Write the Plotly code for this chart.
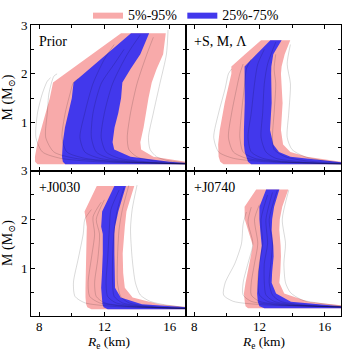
import plotly.graph_objects as go
from plotly.subplots import make_subplots

# ---- band edges (R in km at each mass M in Msun) ----
prior_m = [0.15, 0.2, 0.3, 0.45, 0.6, 0.9, 1.2, 1.5, 1.82, 2.1, 2.4, 2.83]
prior_pink_lo = [7.9, 7.75, 7.74, 7.8, 7.9, 8.15, 8.4, 8.65, 8.85, 10.0, 11.24, 13.02]
prior_pink_hi = [18.0, 16.8, 15.0, 14.25, 14.2, 14.4, 14.55, 14.7, 14.9, 15.2, 15.6, 15.76]
prior_blue_lo = [9.6, 9.45, 9.4, 9.42, 9.45, 9.58, 9.8, 10.0, 10.11, 11.09, 12.13, 13.63]
prior_blue_hi = [18.0, 16.0, 13.6, 12.6, 12.5, 12.62, 12.85, 13.02, 13.1, 13.6, 14.2, 14.74]

sml_m = [0.15, 0.2, 0.3, 0.4, 0.55, 0.85, 1.4, 2.0, 2.15, 2.4, 2.69]
sml_pink_lo = [9.8, 9.6, 9.5, 9.47, 9.47, 9.57, 9.87, 10.28, 10.28, 11.12, 12.1]
sml_pink_hi = [18.0, 17.0, 14.9, 13.9, 13.45, 13.32, 13.42, 13.32, 13.36, 13.55, 13.89]
sml_blue_lo = [11.5, 11.3, 11.2, 11.1, 11.05, 11.05, 11.1, 11.1, 11.09, 11.82, 12.67]
sml_blue_hi = [18.0, 16.3, 13.9, 13.2, 12.85, 12.65, 12.75, 12.72, 12.73, 12.85, 13.36]

j0030_m = [0.16, 0.2, 0.26, 0.4, 0.6, 0.9, 1.3, 1.7, 1.85, 2.16, 2.4, 2.68]
j0030_pink_lo = [11.2, 10.95, 10.88, 10.84, 10.84, 10.86, 10.92, 10.92, 10.92, 10.78, 11.13, 11.53]
j0030_pink_hi = [18.0, 17.2, 15.35, 13.73, 13.25, 13.15, 13.12, 13.22, 13.25, 13.35, 13.55, 13.83]
j0030_blue_lo = [12.2, 11.95, 11.88, 11.86, 11.8, 11.85, 11.9, 11.9, 11.8, 11.86, 12.2, 12.61]
j0030_blue_hi = [18.0, 17.0, 14.3, 13.0, 12.65, 12.61, 12.61, 12.61, 12.65, 12.85, 13.05, 13.32]

j0740_m = [0.18, 0.22, 0.31, 0.48, 0.7, 0.92, 1.24, 1.46, 1.78, 2.0, 2.26, 2.61]
j0740_pink_lo = [11.3, 11.15, 11.1, 11.05, 11.15, 11.29, 11.5, 11.6, 11.3, 11.1, 11.09, 11.8]
j0740_pink_hi = [18.0, 17.5, 15.0, 13.52, 13.22, 13.28, 13.32, 13.3, 13.22, 13.25, 13.4, 13.77]
j0740_blue_lo = [12.3, 12.0, 11.9, 11.86, 11.9, 11.94, 12.05, 12.14, 12.05, 12.0, 12.0, 12.41]
j0740_blue_hi = [18.0, 17.0, 13.93, 13.02, 12.75, 12.78, 12.87, 12.85, 12.75, 12.78, 12.9, 13.22]

# ---- a few individual M-R curves per panel (faint grey lines): (M list, R list) ----
prior_curves = [
    ([0.15, 0.17, 0.2, 0.27, 0.4, 0.7, 1.2, 1.6, 1.85, 1.92], [17.5, 14.5, 11.5, 9.3, 8.2, 7.8, 7.9, 8.2, 8.5, 8.7]),
    ([0.15, 0.17, 0.2, 0.27, 0.4, 0.7, 1.2, 1.6, 1.95, 2.0], [17.5, 15.0, 12.5, 10.2, 8.9, 8.4, 8.5, 8.6, 8.9, 9.1]),
    ([0.15, 0.17, 0.2, 0.27, 0.4, 0.7, 1.2, 1.8, 2.3, 2.6], [17.5, 15.5, 13.5, 11.7, 10.8, 10.5, 10.8, 11.3, 12.0, 12.6]),
    ([0.15, 0.17, 0.2, 0.27, 0.4, 0.7, 1.2, 1.8, 2.4, 2.8], [17.5, 16.0, 14.5, 12.9, 12.1, 11.8, 12.0, 12.5, 13.4, 14.2]),
    ([0.16, 0.19, 0.23, 0.3, 0.45, 0.7, 1.2, 1.8, 2.4, 2.9], [17.5, 16.6, 15.8, 15.2, 14.8, 14.7, 15.0, 15.4, 15.8, 15.9]),
    ([0.15, 0.18, 0.22, 0.3, 0.45, 0.7, 1.2, 1.8, 2.4, 2.75], [17.5, 16.2, 15.0, 14.0, 13.5, 13.4, 13.6, 14.0, 14.6, 15.0]),
    ([0.15, 0.17, 0.2, 0.27, 0.4, 0.7, 1.2, 1.6, 1.82, 1.9], [17.5, 15.2, 13.0, 10.8, 9.7, 9.4, 9.6, 9.9, 10.1, 10.4]),
    ([0.15, 0.17, 0.2, 0.27, 0.4, 0.7, 1.2, 1.8, 2.2, 2.5], [17.5, 15.8, 14.0, 12.3, 11.5, 11.2, 11.3, 11.8, 12.6, 13.2]),
]
sml_curves = [
    ([0.15, 0.17, 0.2, 0.27, 0.4, 0.7, 1.2, 1.7, 2.0, 2.1], [17.5, 14.8, 12.3, 10.4, 9.5, 9.2, 9.5, 9.9, 10.1, 10.3]),
    ([0.15, 0.17, 0.2, 0.27, 0.4, 0.7, 1.2, 1.7, 2.0, 2.2], [17.5, 15.2, 13.0, 11.2, 10.4, 10.1, 10.3, 10.6, 10.8, 11.0]),
    ([0.15, 0.17, 0.2, 0.27, 0.4, 0.7, 1.2, 1.8, 2.2, 2.5], [17.5, 15.6, 13.8, 12.2, 11.5, 11.3, 11.5, 11.7, 11.9, 12.3]),
    ([0.15, 0.17, 0.2, 0.27, 0.4, 0.7, 1.2, 1.8, 2.2, 2.65], [17.5, 16.0, 14.5, 13.0, 12.4, 12.1, 12.2, 12.3, 12.5, 13.0]),
    ([0.16, 0.19, 0.23, 0.3, 0.45, 0.7, 1.2, 1.8, 2.2, 2.6], [17.5, 16.6, 15.8, 14.8, 14.0, 13.7, 13.8, 13.9, 13.7, 13.9]),
    ([0.15, 0.18, 0.22, 0.3, 0.45, 0.7, 1.2, 1.8, 2.1, 2.4], [17.5, 16.2, 14.8, 13.6, 12.9, 12.8, 12.9, 13.0, 12.9, 13.0]),
    ([0.15, 0.17, 0.2, 0.27, 0.4, 0.7, 1.2, 1.8, 2.1, 2.3], [17.5, 15.4, 13.4, 11.7, 11.0, 10.8, 10.9, 11.1, 11.2, 11.5]),
]
j0030_curves = [
    ([0.17, 0.19, 0.22, 0.29, 0.42, 0.7, 1.2, 1.7, 2.0, 2.2], [17.5, 14.8, 12.4, 10.8, 10.2, 10.1, 10.4, 10.7, 10.8, 11.2]),
    ([0.17, 0.19, 0.22, 0.29, 0.42, 0.7, 1.2, 1.7, 2.05, 2.35], [17.5, 15.2, 13.2, 11.7, 11.1, 11.0, 11.2, 11.4, 11.3, 11.8]),
    ([0.17, 0.19, 0.22, 0.29, 0.42, 0.7, 1.2, 1.8, 2.2, 2.6], [17.5, 15.6, 14.0, 12.7, 12.2, 12.1, 12.2, 12.3, 12.4, 12.9]),
    ([0.17, 0.19, 0.22, 0.29, 0.42, 0.7, 1.2, 1.8, 2.2, 2.7], [17.5, 16.0, 14.7, 13.5, 13.0, 12.8, 12.8, 12.9, 13.1, 13.5]),
    ([0.18, 0.21, 0.25, 0.32, 0.45, 0.7, 1.2, 1.8, 2.2, 2.7], [17.5, 16.6, 15.7, 14.8, 14.2, 13.9, 13.7, 13.6, 13.7, 14.0]),
    ([0.17, 0.19, 0.22, 0.29, 0.42, 0.7, 1.2, 1.7, 2.0, 2.4], [17.5, 15.3, 13.5, 12.0, 11.5, 11.4, 11.6, 11.7, 11.5, 12.0]),
    ([0.17, 0.19, 0.22, 0.29, 0.42, 0.7, 1.2, 1.8, 2.2, 2.65], [17.5, 15.8, 14.3, 13.1, 12.6, 12.5, 12.5, 12.6, 12.8, 13.2]),
]
j0740_curves = [
    ([0.2, 0.22, 0.25, 0.32, 0.45, 0.7, 1.1, 1.5, 1.9, 2.15], [17.5, 14.8, 12.2, 10.4, 9.8, 9.9, 10.5, 10.9, 11.0, 11.2]),
    ([0.2, 0.22, 0.25, 0.32, 0.45, 0.7, 1.1, 1.5, 1.95, 2.25], [17.5, 15.2, 13.0, 11.5, 11.0, 11.0, 11.3, 11.6, 11.3, 11.5]),
    ([0.2, 0.22, 0.25, 0.32, 0.45, 0.7, 1.1, 1.5, 2.0, 2.5], [17.5, 15.6, 13.8, 12.5, 12.0, 11.9, 12.0, 12.2, 12.1, 12.5]),
    ([0.2, 0.22, 0.25, 0.32, 0.45, 0.7, 1.1, 1.5, 2.0, 2.6], [17.5, 16.0, 14.6, 13.3, 12.8, 12.6, 12.7, 12.8, 12.6, 13.1]),
    ([0.21, 0.24, 0.28, 0.35, 0.5, 0.7, 1.1, 1.5, 2.0, 2.6], [17.5, 16.6, 15.7, 14.6, 13.9, 13.6, 13.5, 13.6, 13.4, 13.8]),
    ([0.2, 0.22, 0.25, 0.32, 0.45, 0.7, 1.1, 1.5, 2.0, 2.3], [17.5, 15.3, 13.4, 12.0, 11.5, 11.5, 11.7, 11.9, 11.7, 12.0]),
    ([0.2, 0.22, 0.25, 0.32, 0.45, 0.7, 1.1, 1.5, 2.0, 2.55], [17.5, 15.8, 14.2, 12.9, 12.4, 12.3, 12.3, 12.5, 12.4, 12.8]),
]

panel_labels = ["Prior", "+S, M, Λ", "+J0030", "+J0740"]

PINK = "rgb(248,170,170)"
BLUE = "rgb(66,56,236)"
FONT = "Liberation Serif, DejaVu Serif, serif"

panels = [
    (1, 1, prior_m, prior_pink_lo, prior_pink_hi, prior_blue_lo, prior_blue_hi, prior_curves),
    (1, 2, sml_m, sml_pink_lo, sml_pink_hi, sml_blue_lo, sml_blue_hi, sml_curves),
    (2, 1, j0030_m, j0030_pink_lo, j0030_pink_hi, j0030_blue_lo, j0030_blue_hi, j0030_curves),
    (2, 2, j0740_m, j0740_pink_lo, j0740_pink_hi, j0740_blue_lo, j0740_blue_hi, j0740_curves),
]

fig = make_subplots(rows=2, cols=2, shared_xaxes=True, shared_yaxes=True,
                    horizontal_spacing=0, vertical_spacing=0)

for i, (r, c, m, plo, phi, blo, bhi, curves) in enumerate(panels):
    # 5%-95% band
    fig.add_trace(go.Scatter(x=plo + phi[::-1], y=m + m[::-1], fill="toself",
                             fillcolor=PINK, line=dict(width=0), mode="lines",
                             name="5%-95%", legendgroup="p", showlegend=(i == 0),
                             hoverinfo="skip"), row=r, col=c)
    # 25%-75% band
    fig.add_trace(go.Scatter(x=blo + bhi[::-1], y=m + m[::-1], fill="toself",
                             fillcolor=BLUE, line=dict(width=0), mode="lines",
                             name="25%-75%", legendgroup="b", showlegend=(i == 0),
                             hoverinfo="skip"), row=r, col=c)
    for cm, cr in curves:
        fig.add_trace(go.Scatter(x=cr, y=cm, mode="lines",
                                 line=dict(color="rgba(0,0,0,0.25)", width=0.6,
                                           shape="spline", smoothing=0.7),
                                 showlegend=False, hoverinfo="skip"), row=r, col=c)

    sfx = "" if i == 0 else str(i + 1)
    fig.add_annotation(text=panel_labels[i], xref=f"x{sfx} domain", yref=f"y{sfx} domain",
                       x=0.04, y=0.95, xanchor="left", yanchor="top", showarrow=False,
                       font=dict(family=FONT, size=14, color="black"))

fig.update_xaxes(range=[7.5, 17], tickvals=[8, 12, 16], ticks="inside", ticklen=4,
                 showline=True, linecolor="black", linewidth=1, mirror="allticks",
                 showgrid=False, zeroline=False, ticklabelstandoff=-2,
                 minor=dict(tickvals=[10, 14], ticks="inside", ticklen=3, tickcolor="black"),
                 tickcolor="black", tickfont=dict(family=FONT, size=13, color="black"))
fig.update_yaxes(range=[0.02, 3], tickvals=[1, 2, 3], ticks="inside", ticklen=4,
                 showline=True, linecolor="black", linewidth=1, mirror="allticks",
                 showgrid=False, zeroline=False,
                 minor=dict(tickvals=[0.5, 1.5, 2.5], ticks="inside", ticklen=3, tickcolor="black"),
                 tickcolor="black", tickfont=dict(family=FONT, size=13, color="black"))

# axis titles as annotations so they sit where the reference has them
xtitle = "<i>R</i><sub>e</sub> (km)"
ytitle = "M (M<sub>⊙</sub>)"
for sfx in ["3", "4"]:
    fig.add_annotation(text=xtitle, xref=f"x{sfx} domain", yref="paper", x=0.5, y=-0.092,
                       xanchor="center", yanchor="middle", showarrow=False,
                       font=dict(family=FONT, size=13.5, color="black"))
for sfx in ["", "3"]:
    fig.add_annotation(text=ytitle, xref="paper", yref=f"y{sfx} domain", x=-0.072, y=0.5,
                       xanchor="center", yanchor="middle", textangle=-90, showarrow=False,
                       font=dict(family=FONT, size=14, color="black"))

fig.update_layout(
    width=350, height=350,
    margin=dict(l=31, r=9, t=25, b=34, autoexpand=False),
    plot_bgcolor="white", paper_bgcolor="white",
    font=dict(family=FONT, size=13, color="black"),
    legend=dict(orientation="h", x=0.5, xanchor="center", yref="container", y=0.957,
                yanchor="middle", font=dict(family=FONT, size=14), itemwidth=30,
                bgcolor="rgba(0,0,0,0)"),
)

fig.write_html("out.html", config={"displayModeBar": False},
               post_script="document.body.style.margin='0';")
